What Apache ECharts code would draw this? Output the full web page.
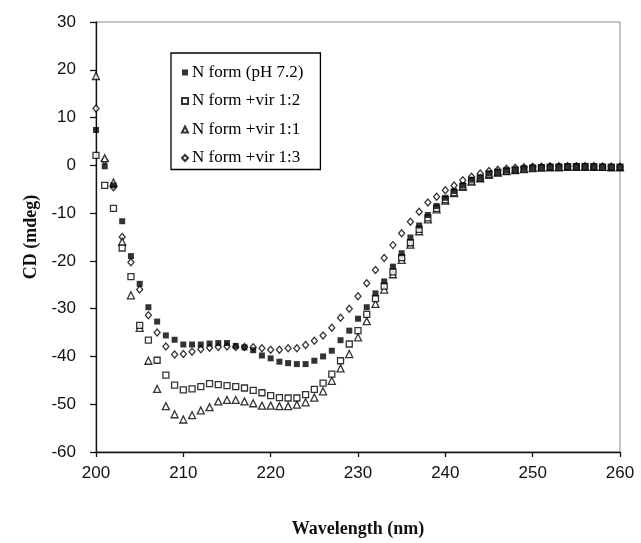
<!DOCTYPE html>
<html>
<head>
<meta charset="utf-8">
<script src="https://cdn.jsdelivr.net/npm/echarts@6/dist/echarts.min.js"></script>
<style>
html,body{margin:0;padding:0;background:#fff;}
#chart{width:641px;height:543px;}
</style>
</head>
<body>
<div id="chart"></div>
<script>
const wavelength = [200,201,202,203,204,205,206,207,208,209,210,211,212,213,214,215,216,217,218,219,220,221,222,223,224,225,226,227,228,229,230,231,232,233,234,235,236,237,238,239,240,241,242,243,244,245,246,247,248,249,250,251,252,253,254,255,256,257,258,259,260];

const seriesNames = ['N form (pH 7.2)', 'N form +vir 1:2', 'N form +vir 1:1', 'N form +vir 1:3'];

const nForm = [7.4,-0.2,-4.2,-11.7,-19.0,-24.8,-29.7,-32.7,-35.6,-36.5,-37.5,-37.5,-37.5,-37.3,-37.2,-37.2,-37.8,-38.1,-38.7,-39.8,-40.4,-41.1,-41.4,-41.6,-41.6,-40.9,-40.0,-38.8,-36.6,-34.6,-32.1,-29.7,-26.8,-24.3,-21.2,-18.4,-15.1,-12.6,-10.4,-8.5,-6.8,-5.4,-4.2,-3.0,-2.6,-1.7,-1.4,-1.1,-1.0,-0.7,-0.5,-0.4,-0.4,-0.3,-0.3,-0.2,-0.2,-0.3,-0.3,-0.4,-0.4];

const vir12 = [2.1,-4.2,-9.0,-17.3,-23.3,-33.5,-36.6,-40.8,-43.9,-46.0,-47.0,-46.8,-46.3,-45.7,-45.9,-46.1,-46.3,-46.6,-47.1,-47.6,-48.2,-48.6,-48.7,-48.7,-48.0,-46.9,-45.6,-43.7,-40.9,-37.4,-34.6,-31.2,-27.9,-25.3,-22.3,-19.3,-16.2,-13.4,-11.0,-9.0,-7.2,-5.7,-4.4,-3.3,-2.7,-1.9,-1.5,-1.2,-1.0,-0.8,-0.6,-0.5,-0.4,-0.4,-0.3,-0.3,-0.3,-0.3,-0.4,-0.4,-0.4];

const vir11 = [18.7,1.5,-3.6,-16.0,-27.2,-34.0,-40.9,-46.8,-50.4,-52.1,-53.2,-52.3,-51.3,-50.6,-49.4,-49.1,-49.1,-49.4,-49.8,-50.3,-50.3,-50.4,-50.4,-50.1,-49.6,-48.6,-47.3,-45.1,-42.5,-39.5,-36.0,-32.6,-29.0,-26.0,-22.8,-19.8,-16.6,-13.8,-11.3,-9.2,-7.4,-5.8,-4.5,-3.4,-2.7,-2.0,-1.5,-1.2,-1.0,-0.8,-0.6,-0.5,-0.4,-0.4,-0.3,-0.3,-0.3,-0.3,-0.3,-0.4,-0.4];

const vir13 = [11.9,1.0,-4.6,-15.0,-20.3,-26.0,-31.4,-35.0,-37.9,-39.6,-39.5,-39.0,-38.5,-38.2,-38.0,-37.9,-38.0,-38.0,-38.1,-38.3,-38.6,-38.6,-38.3,-38.3,-37.6,-36.7,-35.6,-34.0,-31.9,-30.0,-27.4,-24.7,-21.9,-19.4,-16.7,-14.2,-11.8,-9.7,-7.8,-6.6,-5.2,-4.2,-3.1,-2.4,-1.7,-1.2,-0.9,-0.7,-0.5,-0.4,-0.3,-0.3,-0.2,-0.2,-0.2,-0.2,-0.2,-0.2,-0.3,-0.3,-0.3];

const xTicks = [200,210,220,230,240,250,260];
const yTicks = [-60,-50,-40,-30,-20,-10,0,10,20,30];

function pairs(vals){ return wavelength.map((w,i)=>[w, vals[i]]); }

const chart = echarts.init(document.getElementById('chart'), null, {renderer:'canvas'});
const openStyle = {color:'#fff', borderColor:'#000', borderWidth:1.3};
const tickFont = {fontFamily:'Liberation Sans', fontSize:17, color:'#111'};
const titleFont = {fontFamily:'Liberation Serif', fontSize:18, fontWeight:'bold', color:'#111'};

chart.setOption({
  animation:false,
  backgroundColor:'#fff',
  grid:{left:96, right:21, top:22, bottom:89, show:true, borderColor:'#888', borderWidth:1, backgroundColor:'transparent'},
  legend:{
    data:seriesNames,
    orient:'vertical',
    left:171, top:53,
    padding:[11,17,3,10],
    itemGap:11.5,
    itemWidth:6, itemHeight:6,
    borderColor:'#000', borderWidth:1.3,
    backgroundColor:'#fff',
    textStyle:{fontFamily:'Liberation Serif', fontSize:17, color:'#000', lineHeight:17, padding:[0,0,0,-1]}
  },
  xAxis:{
    type:'value', min:xTicks[0], max:xTicks[xTicks.length-1], interval:10,
    name:'Wavelength (nm)', nameLocation:'middle', nameGap:68,
    nameTextStyle:titleFont,
    axisLine:{show:true, onZero:false, lineStyle:{color:'#111', width:1.3}},
    axisTick:{show:true, inside:false, length:5, lineStyle:{color:'#111', width:1.3}},
    axisLabel:Object.assign({margin:13}, tickFont),
    splitLine:{show:false}
  },
  yAxis:{
    type:'value', min:yTicks[0], max:yTicks[yTicks.length-1], interval:10,
    name:'CD (mdeg)', nameLocation:'middle', nameGap:56,
    nameTextStyle:titleFont,
    axisLine:{show:true, onZero:false, lineStyle:{color:'#111', width:1.3}},
    axisTick:{show:true, inside:false, length:6, lineStyle:{color:'#111', width:1.3}},
    axisLabel:Object.assign({margin:20}, tickFont),
    splitLine:{show:false}
  },
  series:[
    {name:seriesNames[3], type:'scatter', data:pairs(vir13), symbol:'diamond', symbolSize:[6,7], itemStyle:openStyle, z:2},
    {name:seriesNames[2], type:'scatter', data:pairs(vir11), symbol:'triangle', symbolSize:7, itemStyle:openStyle, z:3},
    {name:seriesNames[1], type:'scatter', data:pairs(vir12), symbol:'rect', symbolSize:6, itemStyle:openStyle, z:4},
    {name:seriesNames[0], type:'scatter', data:pairs(nForm), symbol:'rect', symbolSize:6, itemStyle:{color:'#000'}, z:5}
  ]
});
</script>
</body>
</html>
